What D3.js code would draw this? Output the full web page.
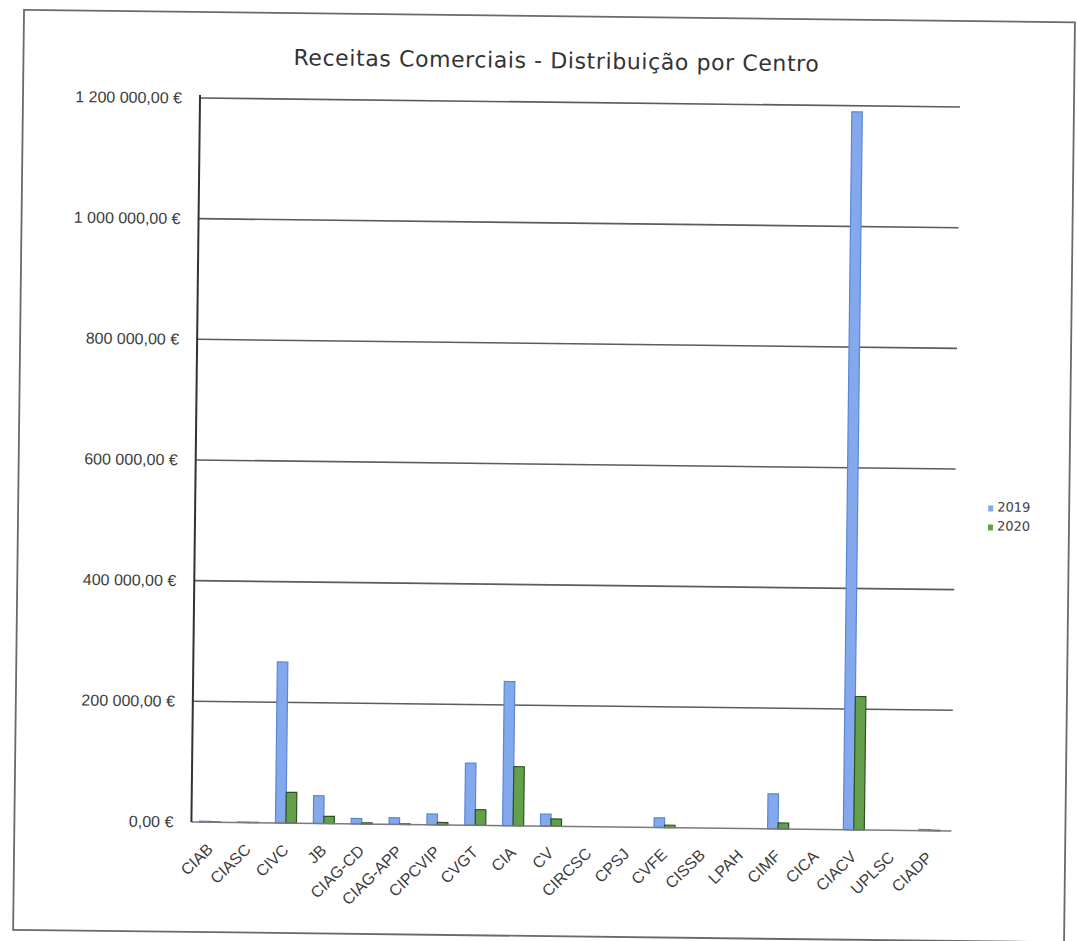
<!DOCTYPE html>
<meta charset="utf-8">
<style>
body { margin: 0; background: #fff; }
svg { font-family: "DejaVu Sans", sans-serif; }
.grid line { stroke: #5c5c5c; stroke-width: 1.6; }
.y-axis text { fill: #3c3c3c; font-size: 16px; }
.x-axis text { fill: #3c3c3c; font-size: 16px; }
.legend text { fill: #3c3c3c; font-size: 13px; }
</style>
<body>
<script src="https://cdn.jsdelivr.net/npm/d3@7"></script>
<script>

var centros = ["CIAB", "CIASC", "CIVC", "JB", "CIAG-CD", "CIAG-APP", "CIPCVIP", "CVGT", "CIA", "CV",
               "CIRCSC", "CPSJ", "CVFE", "CISSB", "LPAH", "CIMF", "CICA", "CIACV", "UPLSC", "CIADP"];
var receitas2019 = [1500, 1000, 267000, 46000, 9000, 11000, 18000, 103000, 239000, 20000,
                    0, 0, 16000, 0, 0, 58000, 0, 1190000, 0, 2000];
var receitas2020 = [500, 500, 51000, 12000, 2000, 1000, 4000, 26000, 98000, 12000,
                    0, 0, 4000, 0, 0, 10000, 0, 221000, 0, 1000];
var anos = ["2019", "2020"];
var yTicks = [0, 200000, 400000, 600000, 800000, 1000000, 1200000];
var cores = {"2019": "#83a9ec", "2020": "#64a04b"};
var contornos = {"2019": "#5a86d8", "2020": "#2b5220"};

var width = 1077, height = 941;
var plot = {left: 200, right: 957, top: 98, bottom: 822};

var pt = d3.formatLocale({decimal: ",", thousands: " ", grouping: [3], currency: ["", " €"]});
var fmt = pt.format("$,.2f");

var svg = d3.select("body").append("svg")
    .attr("width", width)
    .attr("height", height);

svg.append("rect").attr("width", width).attr("height", height).attr("fill", "#fff");

// the printed page sits slightly tilted
var g = svg.append("g")
    .attr("transform", "rotate(0.68," + plot.left + "," + plot.top + ")");

// outer frame of the chart
g.append("rect")
    .attr("x", 23).attr("y", 12)
    .attr("width", 1051).attr("height", 920)
    .attr("fill", "none")
    .attr("stroke", "#6a6a6a")
    .attr("stroke-width", 1.8);

g.append("text")
    .attr("x", 556).attr("y", 64)
    .attr("text-anchor", "middle")
    .attr("font-size", "22px")
    .attr("letter-spacing", "0.6px")
    .attr("fill", "#333")
    .text("Receitas Comerciais - Distribuição por Centro");

var x = d3.scaleBand()
    .domain(centros)
    .range([plot.left, plot.right])
    .paddingInner(0.445)
    .paddingOuter(0.22);

var xAno = d3.scaleBand()
    .domain(anos)
    .range([0, x.bandwidth()]);

var y = d3.scaleLinear()
    .domain([0, 1200000])
    .range([plot.bottom, plot.top]);

// gridlines
g.append("g")
    .attr("class", "grid")
    .selectAll("line")
    .data(yTicks.filter(function(d) { return d > 0; }))
    .enter().append("line")
      .attr("x1", plot.left).attr("x2", plot.right + 3)
      .attr("y1", function(d) { return y(d); })
      .attr("y2", function(d) { return y(d); });

// y axis labels
var yAxis = g.append("g")
    .attr("class", "y-axis")
    .attr("transform", "translate(" + plot.left + ",0)")
    .call(d3.axisLeft(y).tickValues(yTicks).tickFormat(fmt).tickSize(0).tickPadding(18));
yAxis.select(".domain").remove();

var dados = [];
centros.forEach(function(c, i) {
  dados.push({centro: c, ano: "2019", valor: receitas2019[i]});
  dados.push({centro: c, ano: "2020", valor: receitas2020[i]});
});

g.append("g")
    .selectAll("rect")
    .data(dados)
    .enter().append("rect")
      .attr("x", function(d) { return x(d.centro) + xAno(d.ano); })
      .attr("y", function(d) { return y(d.valor); })
      .attr("width", xAno.bandwidth())
      .attr("height", function(d) { return y(0) - y(d.valor); })
      .attr("fill", function(d) { return cores[d.ano]; })
      .attr("stroke", function(d) { return contornos[d.ano]; })
      .attr("stroke-width", 1.2);

// baseline and vertical axis line
g.append("line")
    .attr("x1", plot.left).attr("x2", plot.right + 3)
    .attr("y1", y(0)).attr("y2", y(0))
    .attr("stroke", "#7a7a7a").attr("stroke-width", 1.5);
g.append("line")
    .attr("x1", plot.left).attr("x2", plot.left)
    .attr("y1", plot.top - 3).attr("y2", y(0))
    .attr("stroke", "#333").attr("stroke-width", 2);

// category labels at 45 degrees
var xAxis = g.append("g")
    .attr("class", "x-axis")
    .attr("transform", "translate(0," + (y(0)) + ")")
    .call(d3.axisBottom(x).tickSize(0).tickPadding(0));
xAxis.select(".domain").remove();
xAxis.selectAll("text")
    .attr("text-anchor", "end")
    .attr("dy", 0)
    .attr("transform", "translate(4,28) rotate(-45)");

// legend
var legend = g.append("g")
    .attr("class", "legend")
    .selectAll("g")
    .data(anos)
    .enter().append("g")
      .attr("transform", function(d, i) { return "translate(993," + (497 + i * 19) + ")"; });
legend.append("rect")
    .attr("width", 5).attr("height", 6).attr("y", -1)
    .attr("fill", function(d) { return cores[d]; });
legend.append("text")
    .attr("x", 9).attr("y", 5)
    .text(function(d) { return d; });

</script>
</body>
